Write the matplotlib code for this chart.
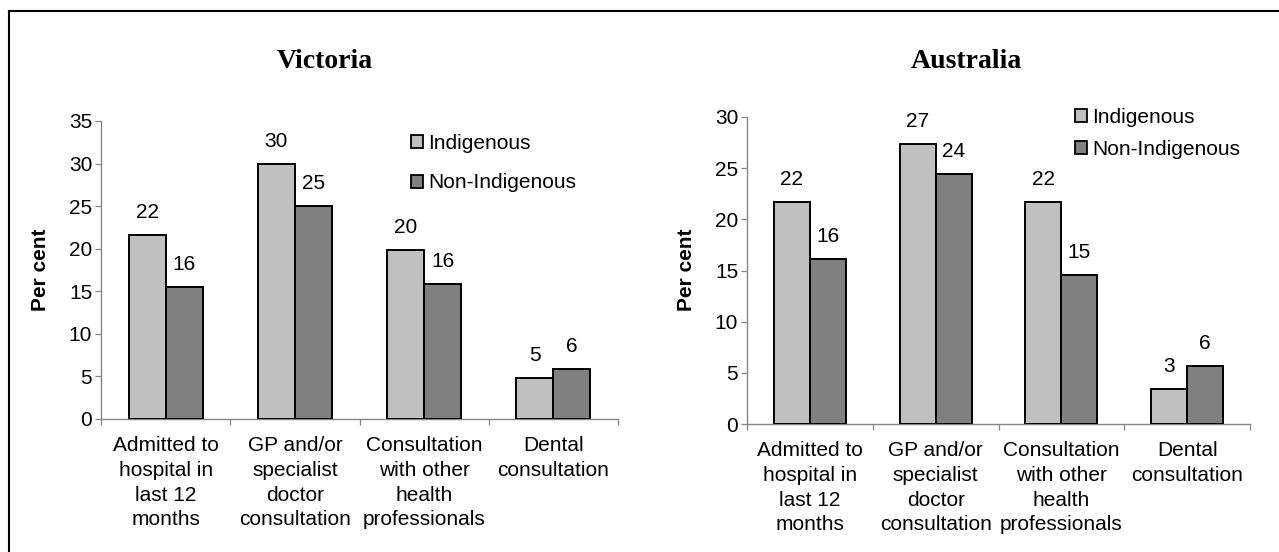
import matplotlib
matplotlib.use("Agg")
import numpy as np
import matplotlib.pyplot as plt
from matplotlib.patches import Patch
from matplotlib.lines import Line2D

plt.rcParams['font.family'] = ['Liberation Sans', 'DejaVu Sans']

# ---------------- data ----------------
categories = ["Admitted to\nhospital in\nlast 12\nmonths",
              "GP and/or\nspecialist\ndoctor\nconsultation",
              "Consultation\nwith other\nhealth\nprofessionals",
              "Dental\nconsultation"]
series_names = ["Indigenous", "Non-Indigenous"]

vic_indigenous = [21.6, 30.0, 19.8, 4.8]
vic_non_indigenous = [15.5, 25.0, 15.8, 5.9]
vic_ind_labels = ["22", "30", "20", "5"]
vic_non_labels = ["16", "25", "16", "6"]
vic_yticks = [0, 5, 10, 15, 20, 25, 30, 35]

aus_indigenous = [21.7, 27.4, 21.7, 3.4]
aus_non_indigenous = [16.1, 24.4, 14.6, 5.7]
aus_ind_labels = ["22", "27", "22", "3"]
aus_non_labels = ["16", "24", "15", "6"]
aus_yticks = [0, 5, 10, 15, 20, 25, 30]

titles = ["Victoria", "Australia"]
ylabel = "Per cent"

# ---------------- style ----------------
W, H = 1279, 552
C_IND = '#C0C0C0'
C_NON = '#808080'
AXIS_C = '#868686'
FS = 15

fig = plt.figure(figsize=(W / 100, H / 100), dpi=100)


def px_axes(l, r, top, bottom):
    return fig.add_axes([l / W, 1 - bottom / H, (r - l) / W, (bottom - top) / H])


def draw(ax, ind, non, ind_lab, non_lab, yticks, leg_xy, leg_spacing):
    x = np.arange(len(categories)) + 0.5
    w = 0.287
    b1 = ax.bar(x - w / 2, ind, w, color=C_IND, edgecolor='black', linewidth=1.4, zorder=3)
    b2 = ax.bar(x + w / 2, non, w, color=C_NON, edgecolor='black', linewidth=1.4, zorder=3)
    for bars, labs in ((b1, ind_lab), (b2, non_lab)):
        for rect, lab in zip(bars, labs):
            ax.annotate(lab, (rect.get_x() + rect.get_width() / 2, rect.get_height()),
                        xytext=(0, 16.2), textcoords='offset points',
                        ha='center', va='center', fontsize=FS)
    ax.set_xlim(0, len(categories))
    ax.set_ylim(yticks[0], yticks[-1])
    ax.set_yticks(yticks)
    ax.set_yticklabels([str(t) for t in yticks], fontsize=FS)
    ax.set_xticks(np.arange(len(categories) + 1))
    ax.set_xticklabels([])
    ax.set_xticks(x, minor=True)
    ax.set_xticklabels(categories, minor=True, fontsize=FS, linespacing=1.38)
    ax.tick_params(axis='x', which='minor', length=0, pad=12.5)
    ax.tick_params(which='major', direction='out', length=4.3, width=0.9, color=AXIS_C)
    ax.tick_params(axis='y', pad=2)
    for s in ('top', 'right'):
        ax.spines[s].set_visible(False)
    for s in ('left', 'bottom'):
        ax.spines[s].set_color(AXIS_C)
        ax.spines[s].set_linewidth(1.0)
    handles = [Patch(facecolor=C_IND, edgecolor='black', linewidth=1.3),
               Patch(facecolor=C_NON, edgecolor='black', linewidth=1.3)]
    ax.legend(handles, series_names, loc='upper left',
              bbox_to_anchor=(leg_xy[0] / W, 1 - leg_xy[1] / H),
              bbox_transform=fig.transFigure, frameon=False, borderpad=0,
              borderaxespad=0, handlelength=0.58, handleheight=0.58,
              handletextpad=0.25, labelspacing=leg_spacing, fontsize=FS)


ax1 = px_axes(101, 618, 121, 419)
draw(ax1, vic_indigenous, vic_non_indigenous, vic_ind_labels, vic_non_labels,
     vic_yticks, (411, 134), 0.98)

ax2 = px_axes(747, 1250, 117, 424)
draw(ax2, aus_indigenous, aus_non_indigenous, aus_ind_labels, aus_non_labels,
     aus_yticks, (1075, 108), 0.63)

# titles and y labels
for cx, t in zip((325, 966), titles):
    fig.text(cx / W, 1 - 61 / H, t, family=['Liberation Serif', 'DejaVu Serif'],
             weight='bold', fontsize=20, ha='center', va='center')
for cx in (41, 686):
    fig.text(cx / W, 1 - 270 / H, ylabel, rotation=90, weight='bold',
             fontsize=FS, ha='center', va='center')

# outer frame (left and top edges visible)
fig.add_artist(Line2D([9 / W, 9 / W], [0, 1 - 11 / H], transform=fig.transFigure,
                      color='black', lw=1.5))
fig.add_artist(Line2D([9 / W, 1], [1 - 11 / H, 1 - 11 / H], transform=fig.transFigure,
                      color='black', lw=1.5))

fig.savefig('out.png', dpi=100)
